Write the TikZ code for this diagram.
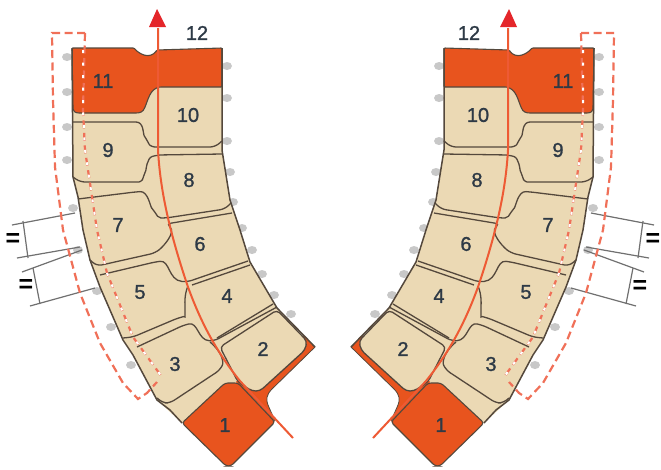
\documentclass[tikz,border=0pt]{standalone}
\usepackage{fontspec}
\setmainfont{Liberation Sans}
\newfontfamily\numfont[FakeBold=1.2]{Liberation Sans}
\definecolor{tan}{HTML}{EBD9B4}
\definecolor{org}{HTML}{E8541E}
\definecolor{curve}{HTML}{EE5A34}
\definecolor{hd}{HTML}{E4262A}
\definecolor{edge}{HTML}{54483C}
\definecolor{dashc}{HTML}{F07058}
\definecolor{pin}{HTML}{C8C8C8}
\definecolor{brk}{HTML}{707070}
\definecolor{txt}{HTML}{2E3A46}
\tikzset{
  seam/.style={draw=edge,line width=1.3pt,rounded corners=5pt},
  rim/.style={draw=edge,line width=1.5pt},
  tile/.style={fill=org,draw=edge,line width=1.1pt,rounded corners=3pt},
  axisline/.style={draw=curve,line width=2pt},
  redbox/.style={draw=dashc,line width=2.2pt,dash pattern=on 8pt off 4.5pt},
  whitedash/.style={draw=white,line width=2pt,dash pattern=on 3pt off 9.5pt},
  pinmark/.style={fill=pin,draw=none},
  bracket/.style={draw=brk,line width=1.2pt},
  num/.style={font=\numfont\fontsize{20}{20}\selectfont,text=txt,inner sep=0pt},
  eq/.style={font=\bfseries\fontsize{25}{25}\selectfont,text=black,inner sep=0pt}
}
\newcommand{\halfpic}{%
  % grey pins
  \foreach \px/\py in {67/57,67/92,67/127,67/160,73/208,78/250,97/291,111/327,131/365,227/66,227/98,227/141,230/172,233/202,242/228,252/250,262/274,274/295,291/314}
    {\path[pinmark] (\px,\py) ellipse (5 and 4);}
  % brackets
  \draw[bracket] (12,225) -- (75,213);
  \draw[bracket] (23,221) -- (28,258);
  \draw[bracket] (17,258) -- (80,247);
  \draw[bracket] (22,272) -- (82,250);
  \draw[bracket] (33,268) -- (40,304);
  \draw[bracket] (30,306) -- (95,288);
  % body
  \fill[tan] (72,80) -- (222,80) -- (222,150) -- (230,200) -- (240,230) -- (250,262) -- (277,308) -- (310,345)
    -- (250,395) -- (230,400) -- (182,423) -- (157,400) -- (133,355) -- (123,340) -- (100,287) -- (90,260) -- (83,230) -- (78,197) -- (73,177) -- cycle;
  % orange base under tile 2
  \fill[org] (315,347) -- (272,389) .. controls (266,395) and (266,400) .. (268,405) -- (275,422) -- (236,382) -- (270,340) -- (305,336) -- cycle;
  \path[draw=edge,line width=.8pt] (315,347) -- (272,389) .. controls (266,395) and (266,400) .. (268,405) -- (275,421);
  % tile 2
  \path[seam,fill=tan,rounded corners=4pt] (220,347) -- (277,310) -- (307,341) -- (305,350) -- (260,391) -- (252,391) -- (238,382) -- cycle;
  % tile 11 and 12
  \path[tile,rounded corners=1pt] (72,48) -- (134,48) .. controls (139,54) and (150,60) .. (157,50) -- (222,48) -- (222,87) -- (160,87)
    .. controls (150,89) and (148,100) .. (145,107) .. controls (143,112) and (140,113) .. (135,113) -- (80,113) .. controls (75,113) and (73,111) .. (73,108) -- cycle;
  % tile 1
  \path[tile] (182,423) -- (225,383) -- (238,383) -- (275,422) -- (231,466) -- (226,466) -- cycle;
  % seams
  \path[seam] (73,122) -- (131,122) .. controls (144,122) and (143,134) .. (147,140) .. controls (150,146) and (154,147) .. (160,147) -- (215,147) -- (222,141);
  \path[seam] (222,154) -- (157,155) .. controls (147,158) and (146,170) .. (144,175) .. controls (142,181) and (139,182) .. (134,182) -- (80,182) -- (73,177);
  \path[seam] (78,199) -- (135,192) .. controls (148,191) and (150,206) .. (155,212) .. controls (158,217) and (162,218) .. (166,218) -- (225,209) -- (231,203);
  \path[seam] (232,213) -- (166,224) .. controls (176,232) and (164,246) .. (155,253) -- (97,266) -- (90,260);
  \path[seam] (100,275) -- (155,262) .. controls (170,260) and (168,280) .. (187,282) -- (248,261);
  \path[seam] (192,285) -- (250,265);
  \path[seam] (188,286) .. controls (184,295) and (185,305) .. (185,312) .. controls (185,316) and (182,317) .. (178,318) -- (133,337) -- (123,338);
  \path[seam] (137,347) -- (184,325) .. controls (198,322) and (198,340) .. (214,341) -- (277,307);
  \path[seam] (217,338) -- (273,304);
  \path[seam] (210,342) .. controls (222,352) and (224,362) .. (220,370) -- (170,403) -- (163,403) -- (157,398);
  % outer rims
  \path[rim] (222,48) -- (222,150) -- (230,200) -- (240,230) -- (250,262) -- (277,308) -- (315,347);
  \path[rim] (72,48) -- (73,177) -- (78,197) -- (83,230) -- (90,260) -- (100,287) -- (123,340) -- (133,355) -- (157,400) -- (170,410) -- (182,423);
  % axis curve
  \path[axisline] (158,28) -- (158,150) .. controls (160,185) and (167,225) .. (188,287) .. controls (200,320) and (215,350) .. (240,381) -- (293,438);
  \fill[hd] (157,9) -- (166,27) -- (149,27) -- cycle;
  % dashed outline
  \path[redbox] (85,33) -- (52,33) -- (53,100) -- (55,167) -- (63,230) -- (80,293) -- (100,343) -- (123,383) -- (138,399) -- (147,393) -- (157,382);
  \path[redbox] (85,33) -- (83,110) -- (85,150) -- (97,230) -- (107,273) -- (133,337) -- (162,377);
  \path[whitedash] (83,50) -- (83,110) -- (85,150) -- (97,230) -- (107,273) -- (133,337) -- (162,377);
}
\begin{document}
\begin{tikzpicture}[x=1pt,y=-1pt]
\useasboundingbox[fill=white] (0,0) rectangle (661,469);
\begin{scope}
  \halfpic
\end{scope}
\begin{scope}[xshift=666pt,xscale=-1]
  \halfpic
\end{scope}
\foreach \t/\x/\y in {11/103/81,12/197/33,10/188/115,9/108/150,8/189/180,7/118/225,6/200/244,5/140/292,4/227/296,3/175/364,2/263/349,1/225/425}{
  \node[num] (left\t) at (\x,\y) {\t};
  \node[num] (right\t) at ({666-\x},\y) {\t};
}
\node[eq] (eqA) at (13,240) {=};
\node[eq] (eqB) at (26,286) {=};
\node[eq] (eqC) at (653,240) {=};
\node[eq] (eqD) at (640,287) {=};
\end{tikzpicture}
\end{document}
